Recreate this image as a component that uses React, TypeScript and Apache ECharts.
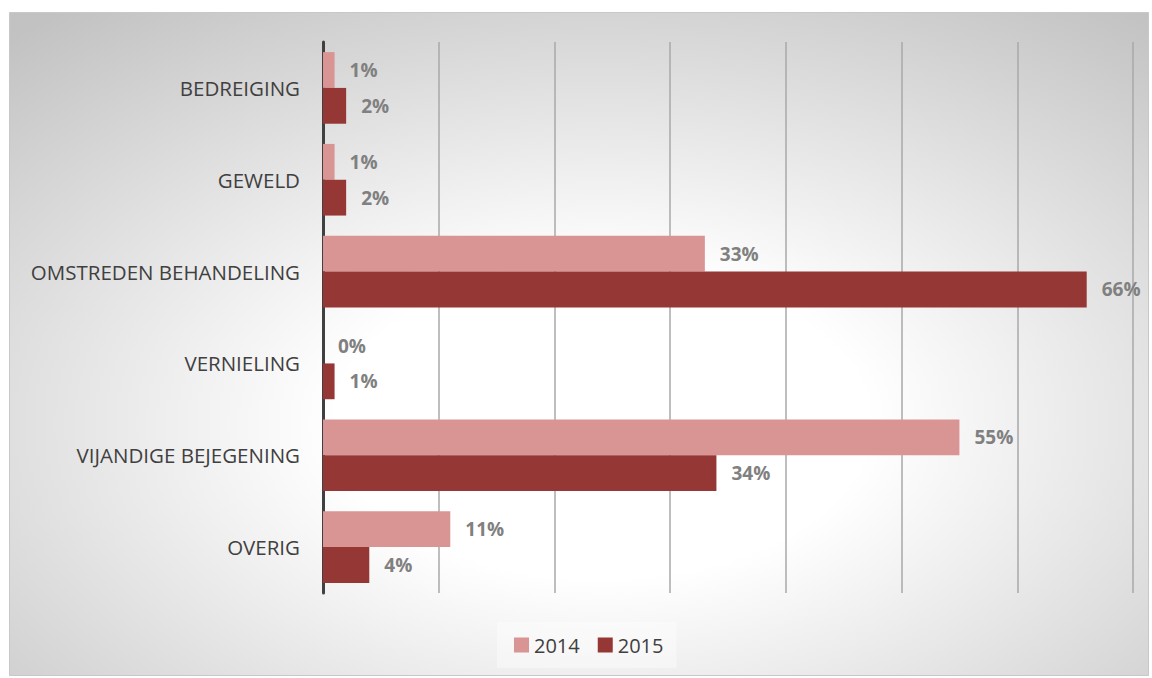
import React, { useEffect, useRef } from "react";
import * as echarts from "echarts";

const categories = [
  "BEDREIGING",
  "GEWELD",
  "OMSTREDEN BEHANDELING",
  "VERNIELING",
  "VIJANDIGE BEJEGENING",
  "OVERIG",
];
const values2014 = [1, 1, 33, 0, 55, 11];
const values2015 = [2, 2, 66, 1, 34, 4];
const seriesNames = ["2014", "2015"];

export default function App() {
  const ref = useRef<HTMLDivElement>(null);
  useEffect(() => {
    if (!ref.current) return;
    const chart = echarts.init(ref.current, undefined, { renderer: "svg" });
    const label = {
      show: true,
      position: "right",
      distance: 15,
      formatter: (p: any) => `${p.value}%`,
      color: "#808080",
      fontWeight: "bold",
      fontSize: 19,
      fontFamily: "Open Sans",
    };
    chart.setOption({
      animation: false,
      graphic: [
        {
          type: "rect",
          z: -100,
          silent: true,
          shape: { x: 9.5, y: 12.5, width: 1139, height: 663 },
          style: {
            stroke: "#c8c8c8",
            lineWidth: 1,
            fill: new echarts.graphic.RadialGradient(0.52, 0.62, 0.78, [
              { offset: 0, color: "#ffffff" },
              { offset: 0.3, color: "#ffffff" },
              { offset: 1, color: "#c2c2c2" },
            ]),
          },
        },
      ],
      grid: { left: 323, right: 19, top: 42, bottom: 85, containLabel: false },
      legend: {
        bottom: 10,
        left: 497,
        itemWidth: 15,
        itemHeight: 15,
        itemGap: 18,
        itemTextGap: 6,
        icon: "rect",
        backgroundColor: "rgba(255,255,255,0.4)",
        padding: [13, 13, 13, 17],
        textStyle: { color: "#404040", fontSize: 20, fontFamily: "Open Sans" },
        data: seriesNames,
      },
      xAxis: {
        type: "value",
        min: 0,
        max: 70,
        interval: 10,
        axisLabel: { show: false },
        axisLine: { show: false },
        axisTick: { show: false },
        splitLine: { show: true, lineStyle: { color: "#a8a8a8", width: 1.5 } },
      },
      yAxis: {
        type: "category",
        inverse: true,
        data: categories,
        axisLine: { show: true, lineStyle: { color: "#404040", width: 3 } },
        axisTick: { show: false },
        axisLabel: {
          color: "#404040",
          fontSize: 20.5,
          fontFamily: "Open Sans",
          margin: 23,
        },
      },
      series: [
        {
          name: seriesNames[0],
          type: "bar",
          data: values2014,
          barGap: "0%",
          barCategoryGap: "22%",
          itemStyle: { color: "#d99594" },
          label,
        },
        {
          name: seriesNames[1],
          type: "bar",
          data: values2015,
          barGap: "0%",
          barCategoryGap: "22%",
          itemStyle: { color: "#953735" },
          label,
        },
      ],
    });
    return () => chart.dispose();
  }, []);
  return (
    <div
      ref={ref}
      style={{ position: "absolute", left: 0, top: 0, width: 1152, height: 678 }}
    />
  );
}
